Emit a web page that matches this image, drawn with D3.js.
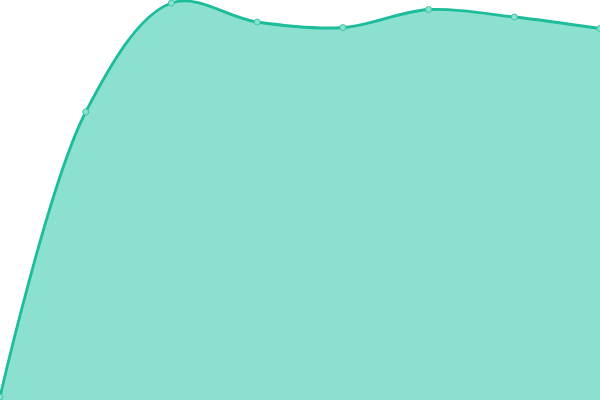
<!DOCTYPE html>
<html>
<head>
<meta charset="utf-8">
<script src="https://cdn.jsdelivr.net/npm/d3@7"></script>
<style>
  html, body { margin: 0; padding: 0; background: #fff; }
  svg { display: block; }
</style>
</head>
<body>
<svg id="chart"></svg>
<script>
// Données
const categories = ["A", "B", "C", "D", "E", "F", "G", "H"];
const values = [3, 288, 397, 378, 372.5, 390.5, 383, 371.5];

const width = 600;
const height = 400;

const svg = d3.select("#chart").attr("width", width).attr("height", height);

const x = d3.scalePoint().domain(categories).range([0, width]);
const y = d3.scaleLinear().domain([0, 400]).range([height, 0]);

const data = categories.map((c, i) => ({ c, v: values[i] }));

const curve = d3.curveCatmullRom.alpha(0.5);

// Aire
const area = d3.area()
    .x(d => x(d.c))
    .y0(height)
    .y1(d => y(d.v))
    .curve(curve);

svg.append("path")
    .datum(data)
    .attr("d", area)
    .attr("fill", "#8be0cf");

// Ligne
const line = d3.line()
    .x(d => x(d.c))
    .y(d => y(d.v))
    .curve(curve);

svg.append("path")
    .datum(data)
    .attr("d", line)
    .attr("fill", "none")
    .attr("stroke", "#1dbc9a")
    .attr("stroke-width", 2.8);

// Points
svg.append("g")
    .selectAll("circle")
    .data(data)
    .enter().append("circle")
    .attr("cx", d => x(d.c))
    .attr("cy", d => y(d.v))
    .attr("r", 3)
    .attr("fill", "#8be0cf")
    .attr("stroke", "#3cc7a8")
    .attr("stroke-width", 1);
</script>
</body>
</html>
